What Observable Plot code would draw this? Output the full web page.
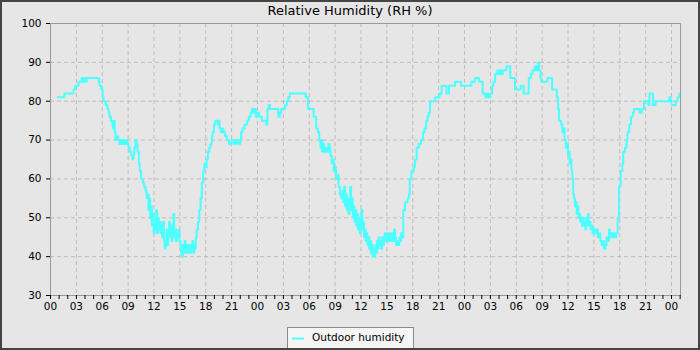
<!DOCTYPE html>
<html>
<head>
<meta charset="utf-8">
<script src="https://cdn.jsdelivr.net/npm/d3@7"></script>
<script src="https://cdn.jsdelivr.net/npm/@observablehq/plot@0.6"></script>
<style>
  html, body { margin: 0; padding: 0; background: #e6e6e6; }
  #wrap { position: relative; width: 700px; height: 350px; background: #e6e6e6; overflow: hidden; font-family: "DejaVu Sans", sans-serif; }
  #chart { position: absolute; left: 0; top: 0; }
  #title { position: absolute; left: 0; top: 3px; width: 700px; text-align: center; font-size: 13px; line-height: 15px; color: #000; }
  #legend { position: absolute; left: 287px; top: 327px; width: 125px; height: 20px; background: #f5f5f5; border: 1px solid #8a8a8a; font-size: 10.5px; color: #000; }
  #legend svg { position: absolute; left: 4px; top: 9px; }
  #legend span { position: absolute; left: 24px; top: 3px; line-height: 13px; white-space: nowrap; }
  #border { position: absolute; left: 0; top: 0; width: 700px; height: 350px; box-sizing: border-box; border: 2px solid #454545; pointer-events: none; }
</style>
</head>
<body>
<div id="wrap">
  <div id="chart"></div>
  <div id="title"></div>
  <div id="legend"><svg width="12" height="3"><line x1="0" y1="1.5" x2="12" y2="1.5" stroke="#4dffff" stroke-width="2"/></svg><span></span></div>
  <div id="border"></div>
</div>
<script>
const chartTitle = "Relative Humidity (RH %)";
const seriesName = "Outdoor humidity";

// hours since the first midnight
const hours = [
  0.85,1.6,2.67,2.85,3.25,3.6,3.75,3.9,4.05,4.2,
  5.6,5.7,5.9,6.05,6.15,6.4,6.6,6.75,6.85,7.0,
  7.15,7.25,7.35,7.45,7.55,7.7,7.85,8.0,8.15,8.3,
  8.45,8.6,8.75,8.9,9.05,9.2,9.35,9.5,9.6,9.7,
  9.85,10.0,10.1,10.25,10.35,10.5,10.7,10.85,11.0,11.15,
  11.25,11.35,11.45,11.55,11.65,11.75,11.85,11.95,12.05,12.15,
  12.25,12.35,12.45,12.55,12.65,12.75,12.85,12.95,13.05,13.15,
  13.25,13.35,13.45,13.55,13.65,13.75,13.85,13.95,14.05,14.15,
  14.25,14.35,14.45,14.55,14.65,14.75,14.85,14.95,15.05,15.15,
  15.25,15.35,15.45,15.55,15.65,15.75,15.85,15.95,16.05,16.15,
  16.25,16.35,16.45,16.55,16.65,16.75,16.85,16.95,17.1,17.25,
  17.4,17.55,17.7,17.85,18.0,18.1,18.25,18.4,18.55,18.7,
  18.8,18.95,19.1,19.4,19.5,19.6,19.75,19.9,20.05,20.25,
  20.45,20.7,21.0,21.3,21.5,21.75,22.0,22.1,22.25,22.5,
  22.8,23.0,23.2,23.35,23.55,23.7,23.8,23.95,24.2,24.5,
  25.0,25.15,25.3,25.45,26.4,26.6,26.75,27.2,27.4,27.55,
  27.75,29.6,29.85,30.5,30.8,31.0,31.15,31.3,31.4,31.5,
  31.6,31.7,31.85,32.0,32.2,32.35,32.45,32.6,32.75,32.85,
  33.0,33.1,33.25,33.4,33.55,33.7,33.85,33.95,34.05,34.15,
  34.25,34.35,34.45,34.55,34.65,34.75,34.85,34.95,35.05,35.15,
  35.25,35.35,35.45,35.55,35.65,35.75,35.85,35.95,36.05,36.15,
  36.25,36.35,36.45,36.55,36.65,36.75,36.85,36.95,37.05,37.15,
  37.25,37.35,37.45,37.55,37.65,37.75,37.85,37.95,38.05,38.15,
  38.25,38.35,38.45,38.55,38.65,38.75,38.85,38.95,39.05,39.15,
  39.25,39.35,39.45,39.55,39.65,39.75,39.85,39.95,40.05,40.2,
  40.35,40.45,40.55,40.65,40.8,40.9,41.1,41.4,41.55,41.65,
  41.85,42.1,42.25,42.45,42.7,42.95,43.2,43.35,43.55,43.7,
  43.85,44.0,44.6,45.1,45.35,45.9,46.2,46.9,47.6,48.8,
  49.2,49.7,50.1,50.4,50.6,50.75,51.0,51.2,51.35,51.55,
  51.8,52.0,52.15,52.3,52.45,52.85,53.3,53.85,54.5,54.85,
  55.45,55.7,55.9,56.15,56.35,56.55,56.65,56.8,56.9,57.6,
  58.15,58.7,58.85,58.95,59.2,59.35,59.5,59.6,59.75,59.9,
  60.0,60.1,60.2,60.3,60.4,60.5,60.6,60.7,60.8,60.9,
  61.0,61.1,61.2,61.3,61.4,61.5,61.6,61.7,61.8,61.9,
  62.0,62.1,62.2,62.3,62.4,62.5,62.6,62.7,62.85,63.0,
  63.15,63.3,63.45,63.6,63.75,63.9,64.05,64.15,64.35,64.45,
  64.6,64.75,64.85,64.95,65.1,65.25,65.4,65.6,65.75,65.9,
  66.1,66.3,66.4,66.6,66.8,66.9,67.1,67.3,67.5,67.65,
  68.3,68.55,68.8,69.3,69.45,69.85,70.15,71.75,71.9,72.0,
  72.5,72.7,72.9,72.95
];

// relative humidity, %
const rh = [
  81,82,83,84,85,86,85,86,85,86,
  85,84,83,81,80,79,78,77,76,75,
  74,73,75,72,70,71,70,69,70,69,
  70,69,70,69,68,67,66,65,66,68,
  70,69,67,64,62,60,59,58,57,55,
  56,52,55,50,53,48,51,46,50,47,
  52,46,50,47,49,46,48,45,49,44,
  42,44,47,43,46,49,45,48,44,47,
  51,45,47,44,46,45,47,44,43,41,
  40,43,41,44,42,41,43,41,42,43,
  41,43,44,41,43,42,45,47,49,52,
  55,59,62,64,63,65,67,68,69,71,
  72,74,75,74,75,73,72,73,72,71,
  70,69,70,69,70,69,70,72,73,74,
  75,76,77,78,77,78,76,77,76,75,
  74,78,79,78,76,77,78,79,80,81,
  82,81,78,76,73,72,70,68,70,67,
  69,67,68,67,69,68,66,64,65,62,
  63,60,61,58,56,55,57,54,58,53,
  56,52,55,51,54,58,52,55,50,53,
  49,52,48,51,47,50,46,49,52,47,
  49,45,47,44,46,43,45,42,44,41,
  43,40,42,40,43,41,44,42,45,43,
  44,42,45,43,44,46,44,45,46,44,
  45,46,44,45,46,44,47,45,43,44,
  43,45,44,46,45,52,54,55,56,60,
  62,63,65,68,69,70,72,73,75,76,
  77,80,81,82,84,82,84,85,84,85,
  86,85,82,81,82,81,82,84,85,87,
  88,87,88,87,88,89,86,83,84,82,
  86,87,88,89,88,90,88,86,85,86,
  83,81,78,75,74,72,73,70,68,69,
  66,67,64,65,62,60,56,55,53,54,
  51,53,50,51,49,50,48,50,48,49,
  47,50,48,51,48,49,47,48,46,47,
  46,47,45,46,44,43,44,42,43,45,
  44,47,45,46,45,46,45,46,50,58,
  62,64,67,68,70,72,74,76,77,78,
  77,78,80,79,82,79,80,81,80,79,
  80,81,82,82
];

const hourLabels = ["00","03","06","09","12","15","18","21"];
const yTicks = [30,40,50,60,70,80,90,100];
const yGrid = [40,50,60,70,80,90];
const xDomain = [0, 73.04];

const data = hours.map((h, i) => ({h, rh: rh[i]}));
const hourTicks = d3.range(0, 74);
const labelTicks = d3.range(0, 73, 3);

document.getElementById("title").textContent = chartTitle;
document.querySelector("#legend span").textContent = seriesName;

const chart = Plot.plot({
  width: 700,
  height: 350,
  marginLeft: 50,
  marginRight: 20,
  marginTop: 23,
  marginBottom: 55,
  style: {background: "#e6e6e6", fontFamily: "DejaVu Sans", fontSize: "10.5px", color: "#000"},
  x: {domain: xDomain},
  y: {domain: [30, 100]},
  marks: [
    Plot.gridX(labelTicks, {stroke: "#bcbcbc", strokeOpacity: 1, strokeDasharray: "4,3"}),
    Plot.gridY(yGrid, {stroke: "#bcbcbc", strokeOpacity: 1, strokeDasharray: "4,3"}),
    Plot.line(data, {x: "h", y: "rh", curve: "step-after", stroke: "#4dffff", strokeWidth: 2}),
    Plot.frame({stroke: "#999"}),
    Plot.axisX(hourTicks, {tickSize: 4, tickPadding: 3, label: null,
      tickFormat: d => d % 3 === 0 ? hourLabels[(d % 24) / 3] : ""}),
    Plot.axisY(yTicks, {tickSize: 4, tickPadding: 5, label: null})
  ]
});
document.getElementById("chart").appendChild(chart);
</script>
</body>
</html>
